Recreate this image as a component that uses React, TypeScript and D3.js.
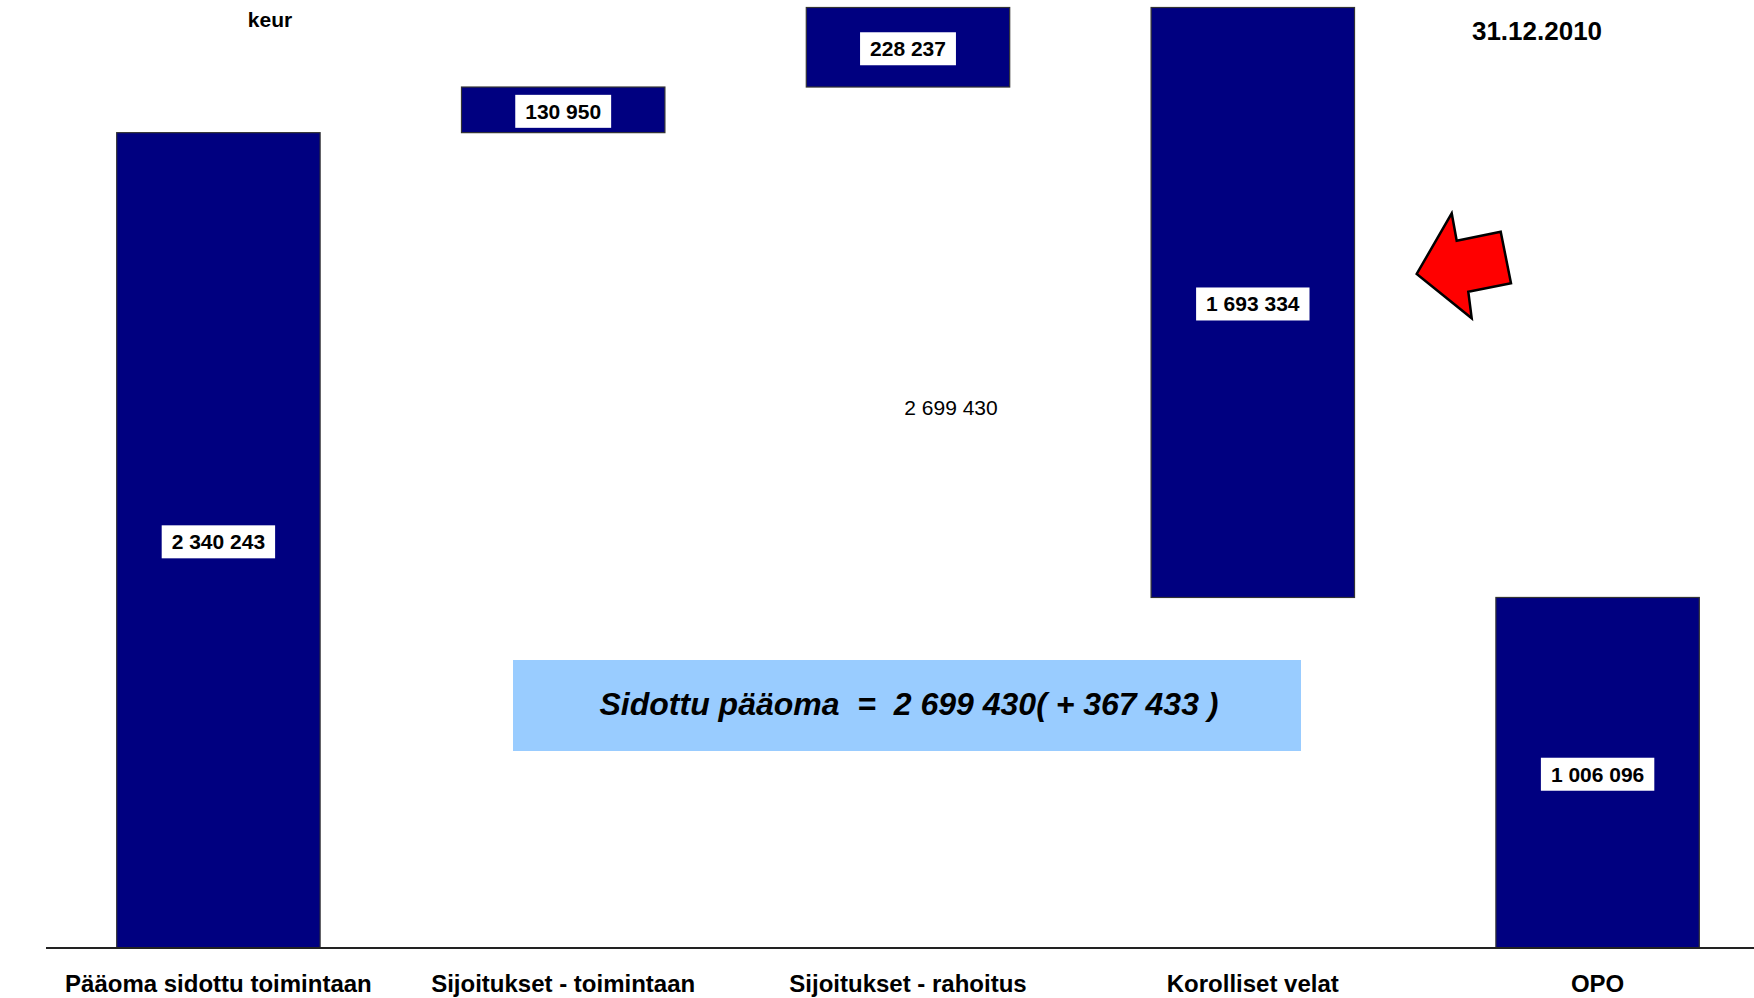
import React from "react";
import * as d3 from "d3";

const categories = [
  "Pääoma sidottu toimintaan",
  "Sijoitukset - toimintaan",
  "Sijoitukset - rahoitus",
  "Korolliset velat",
  "OPO",
];
// signed changes of the waterfall
const changes = [2340243, 130950, 228237, -1693334, -1006096];
const valueLabels = ["2 340 243", "130 950", "228 237", "1 693 334", "1 006 096"];
const totalValue = 2699430;
const totalLabel = "2 699 430";
const unitLabel = "keur";
const dateLabel = "31.12.2010";
const summaryText = "Sidottu pääoma  =  2 699 430( + 367 433 )";

const W = 1754;
const H = 998;

export default function App() {
  const x = d3
    .scaleBand<string>()
    .domain(categories)
    .range([46, 1770])
    .paddingInner(0.41)
    .paddingOuter(0.205);
  const y = d3.scaleLinear().domain([0, totalValue]).range([948, 7.5]);

  let run = 0;
  const bars = changes.map((c, i) => {
    const start = run;
    run += c;
    return { cat: categories[i], lo: Math.min(start, run), hi: Math.max(start, run), label: valueLabels[i] };
  });

  const font = "'Liberation Sans', Arial, Helvetica, sans-serif";
  const labelFs = 21;
  const charW = (s: string) =>
    s.split("").reduce((a, ch) => a + (ch === " " ? 0.278 : 0.556), 0) * labelFs;

  const arrow = [
    [1451.7, 213.3],
    [1456.7, 240.7],
    [1500.7, 231.7],
    [1511, 283.3],
    [1468.3, 291.7],
    [1471.7, 318.3],
    [1416.7, 274],
  ];

  return (
    <svg
      width={W}
      height={H}
      style={{ position: "absolute", left: 0, top: 0, background: "#fff" }}
      fontFamily={font}
    >
      <rect x={0} y={0} width={W} height={H} fill="#fff" />
      {bars.map((b) => {
        const x0 = x(b.cat)!;
        const bw = x.bandwidth();
        const yTop = y(b.hi);
        const yBot = y(b.lo);
        const cx = x0 + bw / 2;
        const cy = (yTop + yBot) / 2 + 1.5;
        const tw = charW(b.label);
        const boxW = tw + 20;
        const boxH = 33;
        return (
          <g key={b.cat}>
            <rect
              x={x0}
              y={yTop}
              width={bw}
              height={yBot - yTop}
              fill="#000080"
              stroke="#333"
              strokeWidth={1.2}
            />
            <rect x={cx - boxW / 2} y={cy - boxH / 2} width={boxW} height={boxH} fill="#fff" />
            <text
              x={cx}
              y={cy + 7.5}
              textAnchor="middle"
              fontSize={labelFs}
              fontWeight="bold"
              fill="#000"
            >
              {b.label}
            </text>
          </g>
        );
      })}
      <line x1={46} x2={W} y1={y(0)} y2={y(0)} stroke="#222" strokeWidth={2} />
      {categories.map((c) => (
        <text
          key={c}
          x={x(c)! + x.bandwidth() / 2}
          y={992}
          textAnchor="middle"
          fontSize={24}
          fontWeight="bold"
          fill="#000"
        >
          {c}
        </text>
      ))}
      <text x={270} y={27} textAnchor="middle" fontSize={21} fontWeight="bold">
        {unitLabel}
      </text>
      <text x={1537} y={40} textAnchor="middle" fontSize={26} fontWeight="bold">
        {dateLabel}
      </text>
      <text x={951} y={415} textAnchor="middle" fontSize={21}>
        {totalLabel}
      </text>
      <rect x={513} y={660} width={788} height={91} fill="#99CCFF" />
      <text
        x={909}
        y={715}
        textAnchor="middle"
        fontSize={32}
        fontWeight="bold"
        fontStyle="italic"
        xmlSpace="preserve"
        style={{ whiteSpace: "pre" }}
      >
        {summaryText}
      </text>
      <polygon
        points={arrow.map((p) => p.join(",")).join(" ")}
        fill="#FF0000"
        stroke="#000"
        strokeWidth={2.5}
        strokeLinejoin="miter"
      />
    </svg>
  );
}
